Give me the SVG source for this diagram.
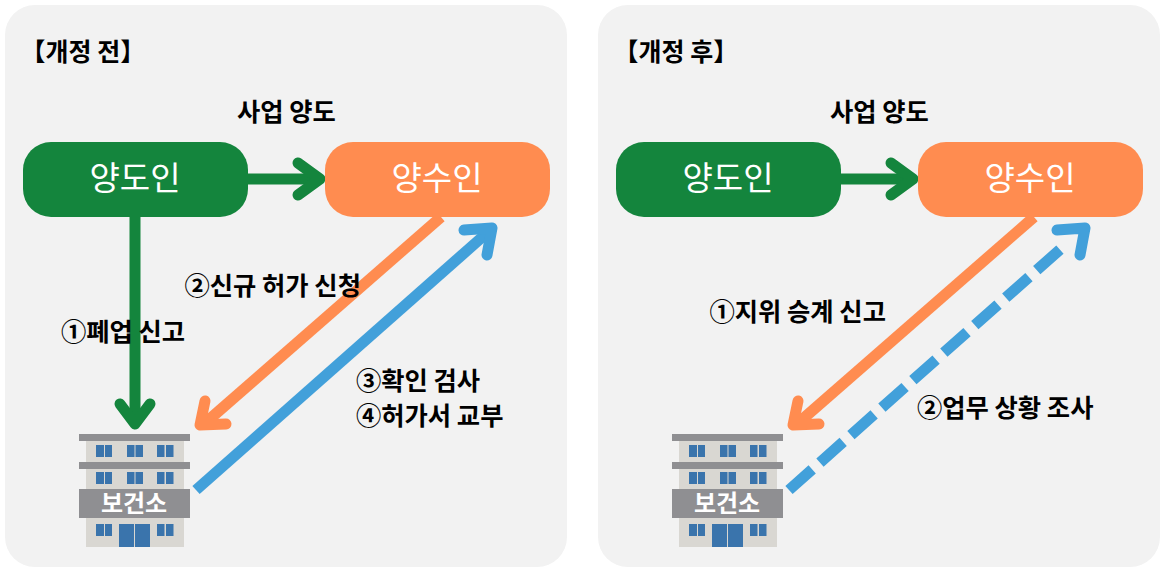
<svg xmlns="http://www.w3.org/2000/svg" width="1166" height="573" viewBox="0 0 1166 573">
<style>
text{font-family:"Noto Sans CJK KR","Noto Sans",sans-serif;fill:#000}
.t{font-size:25px;font-weight:700}
.l{font-size:25.300px;font-weight:700}
.n{font-size:33px;font-weight:400;fill:#fff;text-anchor:middle}
.b{font-size:24px;font-weight:700;fill:#fff;text-anchor:middle}
.panel{fill:#f2f2f2}
.green{fill:#14853d}.orange{fill:#ff8c50}
.c{fill:none;stroke-width:11;stroke-linecap:round;stroke-linejoin:round}
.cg{stroke:#14853d}.co{stroke:#ff8c50}.cb{stroke:#42a0da}
.butt{stroke-linecap:butt}
.win{fill:#3a74ac}.bar{fill:#8f8f92}.body{fill:#d9d7d2}
</style>
<defs>
<g id="bld">
<rect class="body" x="86" y="441" width="98" height="106"/>
<rect class="bar" x="79" y="434" width="111" height="7"/>
<rect class="bar" x="79" y="462" width="111" height="7"/>
<rect class="bar" x="79" y="489" width="111" height="29"/>
<path class="win" d="M96 445h8v12h-8zM105 445h7v12h-7zM127 445h7.500v12h-7.500zM135.500 445h7.500v12h-7.500zM157 445h7.500v12h-7.500zM166 445h7.500v12h-7.500zM96 472h8v12h-8zM105 472h7v12h-7zM127 472h7.500v12h-7.500zM135.500 472h7.500v12h-7.500zM157 472h7.500v12h-7.500zM166 472h7.500v12h-7.500zM96 524h8v12h-8zM105 524h7v12h-7zM157 524h7.500v12h-7.500zM166 524h7.500v12h-7.500zM119 524h15v23h-15zM135 524h15v23h-15z"/>
</g>
</defs>
<g id="panel-before"><rect class="panel" x="5" y="5" width="562" height="562" rx="30"/>
<text class="t" x="20.500" y="61">【개정 전】</text></g>
<g id="panel-after"><rect class="panel" x="598" y="5" width="562" height="562" rx="30"/>
<text class="t" x="613.500" y="61">【개정 후】</text></g>
<g id="connectors">
<path class="c cg butt" d="M248 179H316"/>
<path class="c cg" d="M298 163L320 179L298 195"/>
<path class="c cg butt" d="M135 217V420"/>
<path class="c cg" d="M120 404L135 424L150 404"/>
<path class="c co butt" d="M441 217L204 424"/>
<path class="c co" d="M205 401L200 425L226 424"/>
<path class="c cb butt" d="M196 490L488 232"/>
<path class="c cb" d="M464 230L492 228L487 255"/>
<path class="c cg butt" d="M841 179H909"/>
<path class="c cg" d="M891 163L913 179L891 195"/>
<path class="c co butt" d="M1034 217L797 424"/>
<path class="c co" d="M798 401L793 425L819 424"/>
<path class="c cb butt" d="M789 490L1064 246" stroke-dasharray="31 10.400"/>
<path class="c cb" d="M1057 230L1085 228L1080 255"/>
</g>
<g id="node-yangdoin-1"><rect class="green" x="23" y="142" width="225" height="75" rx="28"/><text class="n" x="135" y="190">양도인</text></g>
<g id="node-yangsuin-1"><rect class="orange" x="325" y="142" width="225" height="75" rx="28"/><text class="n" x="437" y="190">양수인</text></g>
<g id="node-bogeonso-1"><use href="#bld"/><text class="b" x="134" y="512">보건소</text></g>
<g id="node-yangdoin-2"><rect class="green" x="616" y="142" width="225" height="75" rx="28"/><text class="n" x="728" y="190">양도인</text></g>
<g id="node-yangsuin-2"><rect class="orange" x="918" y="142" width="225" height="75" rx="28"/><text class="n" x="1030" y="190">양수인</text></g>
<g id="node-bogeonso-2"><use href="#bld" x="593"/><text class="b" x="727" y="512">보건소</text></g>
<g id="labels">
<text class="l" x="237" y="121">사업 양도</text>
<text class="l" x="830" y="121">사업 양도</text>
<text class="l" x="184.500" y="295">②신규 허가 신청</text>
<text class="l" x="61" y="341">①폐업 신고</text>
<text class="l" x="356" y="390">③확인 검사</text>
<text class="l" x="356" y="425">④허가서 교부</text>
<text class="l" x="709.500" y="321">①지위 승계 신고</text>
<text class="l" x="917" y="417">②업무 상황 조사</text>
</g>
</svg>
